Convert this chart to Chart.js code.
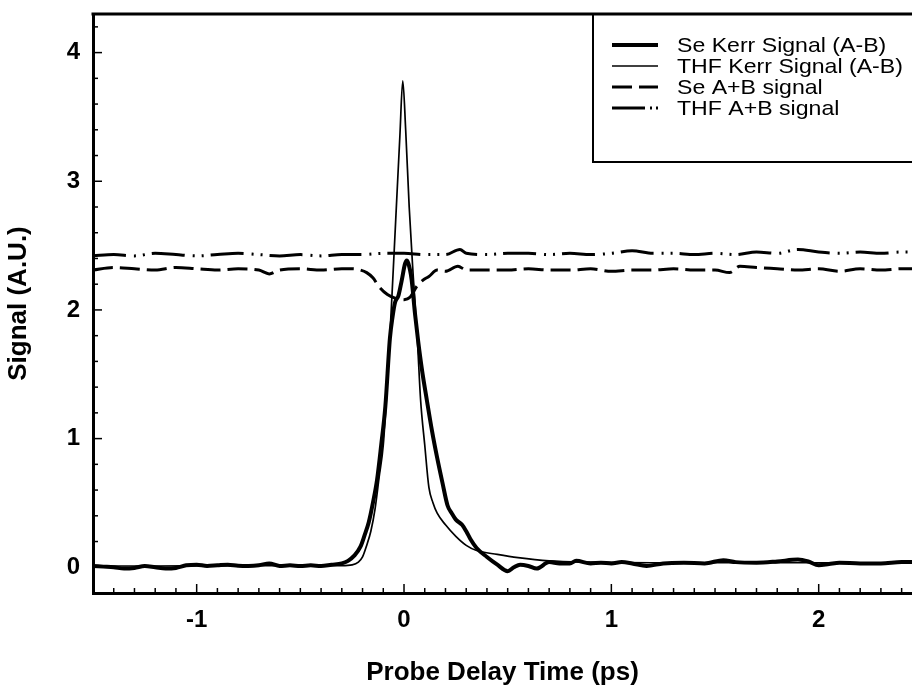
<!DOCTYPE html>
<html><head><meta charset="utf-8">
<script src="https://cdn.jsdelivr.net/npm/chart.js@4.4.1/dist/chart.umd.min.js"></script>
<style>html,body{margin:0;padding:0;background:#fff;}canvas{display:block;}</style>
</head><body>
<canvas id="c" width="912" height="686"></canvas>
<script>
const seriesNames = ['Se Kerr Signal (A-B)', 'THF Kerr Signal (A-B)', 'Se A+B signal', 'THF A+B signal'];
const xTickLabels = ['-1', '0', '1', '2'];
const yTickLabels = ['0', '1', '2', '3', '4'];

const seKerrX = [-1.5,-1.45,-1.4,-1.35,-1.3,-1.25,-1.2,-1.15,-1.1,-1.05,-1.0,-0.95,-0.9,-0.85,-0.8,-0.75,-0.7,-0.65,-0.6,-0.55,-0.5,-0.45,-0.4,-0.35,-0.3,-0.27,-0.24,-0.21,-0.19,-0.17,-0.15,-0.13,-0.11,-0.09,-0.068,-0.055,-0.043,-0.027,-0.011,0.005,0.013,0.029,0.037,0.053,0.068,0.087,0.11,0.135,0.16,0.185,0.21,0.23,0.25,0.28,0.30,0.32,0.35,0.40,0.45,0.50,0.53,0.56,0.60,0.64,0.70,0.75,0.80,0.83,0.90,0.95,1.0,1.05,1.1,1.17,1.25,1.35,1.45,1.54,1.6,1.7,1.8,1.9,1.95,2.0,2.05,2.1,2.2,2.3,2.4,2.45];
const seKerrY = [0.01,0.005,0.0,-0.01,-0.005,0.01,0.0,-0.01,-0.005,0.015,0.02,0.01,0.015,0.02,0.012,0.01,0.015,0.03,0.01,0.015,0.01,0.015,0.01,0.02,0.03,0.05,0.09,0.16,0.25,0.35,0.50,0.68,0.95,1.25,1.78,1.95,2.06,2.11,2.23,2.36,2.385,2.31,2.23,1.97,1.76,1.53,1.30,1.06,0.85,0.66,0.48,0.42,0.37,0.33,0.28,0.22,0.15,0.08,0.02,-0.03,0.0,0.02,0.01,-0.01,0.04,0.03,0.03,0.05,0.03,0.035,0.03,0.04,0.03,0.01,0.03,0.035,0.03,0.055,0.04,0.035,0.045,0.06,0.045,0.015,0.025,0.035,0.03,0.03,0.04,0.04];

const thfKerrX = [-1.5,-1.2,-0.9,-0.6,-0.4,-0.3,-0.25,-0.22,-0.20,-0.18,-0.16,-0.14,-0.12,-0.10,-0.08,-0.06,-0.04,-0.02,-0.006,0.008,0.025,0.045,0.065,0.08,0.10,0.12,0.14,0.16,0.20,0.25,0.30,0.35,0.45,0.55,0.7,0.9,1.2,1.6,2.0,2.45];
const thfKerrY = [0.01,0.01,0.012,0.012,0.012,0.012,0.018,0.04,0.08,0.17,0.28,0.45,0.70,0.95,1.45,2.05,2.70,3.35,3.78,3.40,2.80,2.25,1.75,1.30,0.95,0.62,0.50,0.42,0.33,0.24,0.17,0.13,0.10,0.075,0.05,0.04,0.035,0.035,0.035,0.035];

const seSumX = [-1.5,-1.4,-1.3,-1.2,-1.1,-1.0,-0.9,-0.8,-0.7,-0.65,-0.6,-0.5,-0.4,-0.3,-0.25,-0.21,-0.18,-0.15,-0.12,-0.08,-0.04,0.0,0.03,0.06,0.09,0.12,0.16,0.2,0.26,0.3,0.4,0.5,0.6,0.7,0.8,0.9,1.0,1.1,1.2,1.3,1.4,1.5,1.57,1.62,1.7,1.8,1.9,2.0,2.1,2.2,2.3,2.4,2.45];
const seSumY = [2.31,2.33,2.32,2.31,2.33,2.32,2.31,2.32,2.31,2.28,2.31,2.32,2.31,2.32,2.32,2.31,2.29,2.25,2.18,2.12,2.09,2.08,2.10,2.18,2.23,2.26,2.31,2.30,2.34,2.31,2.31,2.31,2.32,2.31,2.31,2.32,2.30,2.31,2.31,2.32,2.31,2.31,2.29,2.34,2.33,2.32,2.31,2.32,2.30,2.32,2.31,2.32,2.32];

const thfSumX = [-1.5,-1.4,-1.3,-1.2,-1.1,-1.0,-0.9,-0.8,-0.7,-0.6,-0.5,-0.4,-0.3,-0.2,-0.1,0.0,0.1,0.2,0.27,0.3,0.4,0.5,0.6,0.7,0.8,0.9,1.0,1.1,1.2,1.3,1.4,1.5,1.6,1.7,1.8,1.9,2.0,2.1,2.2,2.3,2.4,2.45];
const thfSumY = [2.42,2.43,2.42,2.44,2.43,2.42,2.43,2.44,2.43,2.42,2.43,2.42,2.43,2.43,2.44,2.44,2.43,2.43,2.47,2.44,2.43,2.44,2.44,2.43,2.44,2.43,2.44,2.46,2.44,2.44,2.43,2.44,2.43,2.45,2.44,2.47,2.45,2.44,2.45,2.44,2.45,2.45];

const FONT = "'Liberation Sans', Arial, Helvetica, sans-serif";
const pts = (xs, ys) => xs.map((x, i) => ({x: x, y: ys[i]}));

const legendDash = [[], [], [20, 7], [33, 5, 2, 4, 2, 20]];

const decorPlugin = {
  id: 'decor',
  afterDraw(chart) {
    const ctx = chart.ctx, ca = chart.chartArea;
    const xs = chart.scales.x, ys = chart.scales.y;
    ctx.save();
    ctx.strokeStyle = '#000';
    ctx.lineWidth = 3;
    ctx.beginPath(); ctx.moveTo(ca.left - 1.5, ca.top); ctx.lineTo(ca.right, ca.top); ctx.stroke();
    ctx.lineWidth = 1.5;
    for (let k = -14; k <= 24; k++) {
      const v = k / 10;
      const px = xs.getPixelForValue(v);
      const len = (k % 10 === 0) ? 9 : 5;
      ctx.beginPath(); ctx.moveTo(px, ca.bottom); ctx.lineTo(px, ca.bottom - len); ctx.stroke();
    }
    for (let k = -1; k <= 21; k++) {
      const v = k / 5;
      const py = ys.getPixelForValue(v);
      const len = (k % 5 === 0) ? 9 : 5;
      ctx.beginPath(); ctx.moveTo(ca.left, py); ctx.lineTo(ca.left + len, py); ctx.stroke();
    }
    ctx.lineWidth = 2;
    ctx.strokeRect(593, ca.top, 400, 148);
    const rowsY = [45, 66, 87, 108];
    chart.data.datasets.forEach((ds, i) => {
      const y = rowsY[i];
      ctx.lineWidth = ds.borderWidth;
      ctx.setLineDash(legendDash[i]);
      ctx.beginPath(); ctx.moveTo(612, y); ctx.lineTo(658, y); ctx.stroke();
      ctx.setLineDash([]);
      ctx.save();
      ctx.fillStyle = '#000';
      ctx.font = '21px ' + FONT;
      ctx.textBaseline = 'middle';
      ctx.textAlign = 'left';
      ctx.translate(677, y + 1);
      ctx.scale(1.1, 1);
      ctx.fillText(ds.label, 0, 0);
      ctx.restore();
    });
    ctx.restore();
  }
};

new Chart(document.getElementById('c'), {
  type: 'line',
  data: {
    datasets: [
      {label: seriesNames[0], data: pts(seKerrX, seKerrY), borderColor: '#000', borderWidth: 4, pointRadius: 0, fill: false},
      {label: seriesNames[1], data: pts(thfKerrX, thfKerrY), borderColor: '#000', borderWidth: 1.7, pointRadius: 0, fill: false},
      {label: seriesNames[2], data: pts(seSumX, seSumY), borderColor: '#000', borderWidth: 3, borderDash: [20, 7], pointRadius: 0, fill: false},
      {label: seriesNames[3], data: pts(thfSumX, thfSumY), borderColor: '#000', borderWidth: 3, borderDash: [33, 8, 2, 7, 2, 7], pointRadius: 0, fill: false}
    ]
  },
  options: {
    responsive: false,
    animation: false,
    devicePixelRatio: 1,
    layout: {padding: {top: 14, left: 0, right: 0, bottom: 0}},
    plugins: {legend: {display: false}, tooltip: {enabled: false}},
    elements: {line: {cubicInterpolationMode: 'monotone'}, point: {radius: 0}},
    scales: {
      x: {
        type: 'linear', min: -1.5, max: 2.45,
        afterFit(s) { s.height = 93; s.paddingLeft = 0; s.paddingRight = 0; },
        grid: {display: false, drawTicks: false},
        border: {display: true, color: '#000', width: 3},
        ticks: {stepSize: 1, includeBounds: false, padding: 13, color: '#000',
          font: {family: FONT, size: 24, weight: 'bold'},
          callback: (v) => { const i = [-1, 0, 1, 2].indexOf(v); return i >= 0 ? xTickLabels[i] : ''; }},
        title: {display: true, text: 'Probe Delay Time (ps)', color: '#000',
          font: {family: FONT, size: 26, weight: 'bold', lineHeight: 1}, padding: {top: 0, bottom: 0}}
      },
      y: {
        type: 'linear', min: -0.2, max: 4.3,
        afterFit(s) { s.width = 93; s.paddingTop = 0; s.paddingBottom = 0; },
        grid: {display: false, drawTicks: false},
        border: {display: true, color: '#000', width: 3},
        ticks: {stepSize: 1, includeBounds: false, padding: 13, color: '#000',
          font: {family: FONT, size: 24, weight: 'bold'},
          callback: (v) => { const i = [0, 1, 2, 3, 4].indexOf(v); return i >= 0 ? yTickLabels[i] : ''; }},
        title: {display: true, text: 'Signal (A.U.)', color: '#000',
          font: {family: FONT, size: 26, weight: 'bold', lineHeight: 1}, padding: {top: 6, bottom: 0}}
      }
    }
  },
  plugins: [decorPlugin]
});
</script>
</body></html>
